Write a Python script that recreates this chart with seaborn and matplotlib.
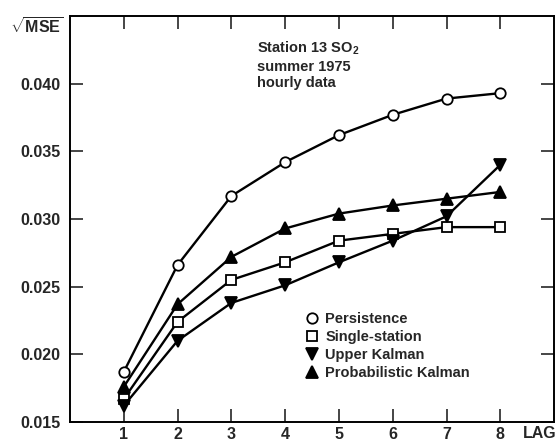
import numpy as np
import pandas as pd
import matplotlib
matplotlib.use("Agg")
import matplotlib.pyplot as plt
import seaborn as sns

lags = [1, 2, 3, 4, 5, 6, 7, 8]
persistence = [0.0187, 0.0266, 0.0317, 0.0342, 0.0362, 0.0377, 0.0389, 0.0393]
single_station = [0.0167, 0.0224, 0.0255, 0.0268, 0.0284, 0.0289, 0.0294, 0.0294]
upper_kalman = [0.0162, 0.0210, 0.0238, 0.0251, 0.0268, 0.0284, 0.0302, 0.0340]
prob_kalman = [0.0176, 0.0237, 0.0272, 0.0293, 0.0304, 0.0310, 0.0315, 0.0320]
series_names = ["Persistence", "Single-station", "Upper Kalman", "Probabilistic Kalman"]
y_ticks = [0.015, 0.020, 0.025, 0.030, 0.035, 0.040]

sns.set_theme(style="ticks")
plt.rcParams['font.family'] = ['Liberation Sans', 'DejaVu Sans']
plt.rcParams['font.weight'] = 'bold'
plt.rcParams['mathtext.fontset'] = 'custom'
plt.rcParams['mathtext.bf'] = 'Liberation Sans:bold'
plt.rcParams['mathtext.rm'] = 'Liberation Sans:bold'
plt.rcParams['mathtext.default'] = 'bf'

df = pd.DataFrame({
    "lag": lags * 4,
    "value": persistence + single_station + upper_kalman + prob_kalman,
    "series": sum([[n] * len(lags) for n in series_names], []),
})

fig = plt.figure(figsize=(5.58, 4.45), dpi=100)
ax = fig.add_axes([0.1254, 0.0517, 0.8676, 0.9123])

styles = {
    "Persistence": dict(marker="o", mfc="white", ms=7.5),
    "Single-station": dict(marker="s", mfc="white", ms=6.5),
    "Upper Kalman": dict(marker="v", mfc="black", ms=8),
    "Probabilistic Kalman": dict(marker="^", mfc="black", ms=8),
}
for name in series_names:
    sub = df[df.series == name]
    st = styles[name]
    sns.lineplot(data=sub, x="lag", y="value", ax=ax, color="black", lw=1.7,
                 marker=st["marker"], markersize=st["ms"], markerfacecolor=st["mfc"],
                 markeredgecolor="black", markeredgewidth=1.3, label=name)

ax.set_xlim(0, 9)
ax.set_ylim(0.015, 0.045)
ax.set_xticks(lags)
ax.set_yticks(y_ticks)
ax.set_yticklabels([f"{v:.3f}" for v in y_ticks])
ax.tick_params(direction="in", length=9.5, width=1.2, labelsize=11.5,
               top=True, right=True)
ax.tick_params(axis="x", pad=3.5)
ax.tick_params(axis="y", pad=7)
for s in ax.spines.values():
    s.set_linewidth(1.4)
    s.set_color("black")
ax.set_xlabel("")
ax.set_ylabel("")

leg = ax.legend(loc="upper left", bbox_to_anchor=(0.475, 0.285), frameon=False,
                fontsize=10.5, handlelength=0.8, handletextpad=0.55,
                labelspacing=0.28, borderaxespad=0)
for h in leg.legend_handles:
    h.set_linestyle("none")

ax.text(0.386, 0.942, "Station 13 SO$_2$\nsummer 1975\nhourly data",
        transform=ax.transAxes, ha="left", va="top", fontsize=10.5,
        fontweight="bold", linespacing=1.25)

fig.text(10 / 558, 1 - 27 / 445, "$\\sqrt{\\mathbf{MSE}}$", ha="left", va="center",
         fontsize=11.5, fontweight="bold")
fig.text(557 / 558, 1 - 434 / 445, "LAG", ha="right", va="center",
         fontsize=11.5, fontweight="bold")

fig.savefig("out.png", dpi=100)
